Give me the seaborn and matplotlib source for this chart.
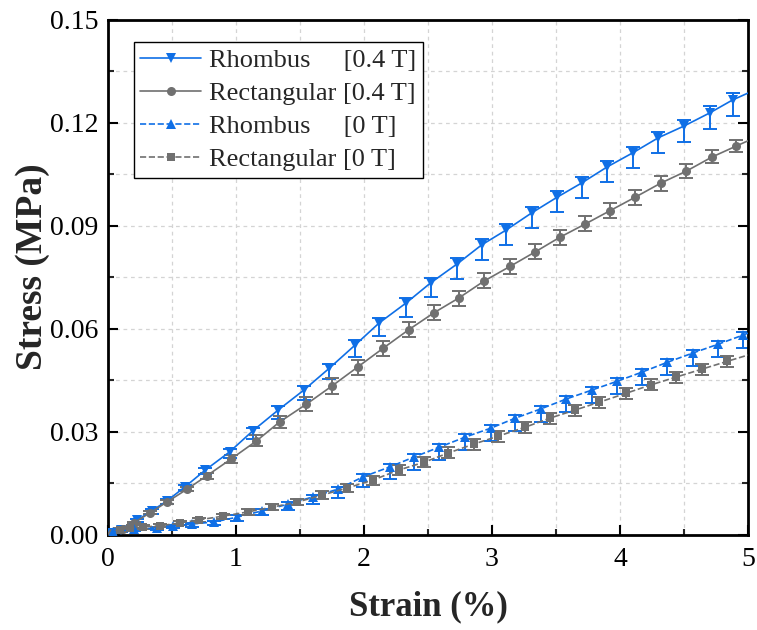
import numpy as np
import pandas as pd
import seaborn as sns
import matplotlib.pyplot as plt
from matplotlib.ticker import MultipleLocator

# ---- data: strain (%) vs stress (MPa); last entry of each series is the curve end (no marker)
rh04_x = [0.02, 0.10, 0.23, 0.34, 0.46, 0.60, 0.76, 0.95, 1.13, 1.33, 1.53, 1.73, 1.93, 2.12,
          2.33, 2.52, 2.73, 2.92, 3.11, 3.31, 3.51, 3.70, 3.90, 4.10, 4.30, 4.50, 4.70, 4.88, 5.00]
rh04_y = [0.0005, 0.0015, 0.0044, 0.0070, 0.0099, 0.0140, 0.0189, 0.0242, 0.0303, 0.0364, 0.0422,
          0.0486, 0.0553, 0.0618, 0.0676, 0.0734, 0.0790, 0.0845, 0.0888, 0.0938, 0.0984, 0.1025,
          0.1072, 0.1113, 0.1157, 0.1191, 0.1229, 0.1267, 0.1287]
rh04_lo = [0.0003, 0.0005, 0.0006, 0.0008, 0.0008, 0.0010, 0.0012, 0.0018, 0.0022, 0.0027, 0.0030,
           0.0033, 0.0036, 0.0038, 0.0040, 0.0042, 0.0043, 0.0044, 0.0044, 0.0044, 0.0044, 0.0044,
           0.0044, 0.0044, 0.0045, 0.0046, 0.0047, 0.0048]
rh04_hi = [0.0002, 0.0003, 0.0004, 0.0005, 0.0005, 0.0006, 0.0007, 0.0008, 0.0010, 0.0011, 0.0012,
           0.0013, 0.0014, 0.0015, 0.0015, 0.0015, 0.0016, 0.0016, 0.0017, 0.0017, 0.0017, 0.0017,
           0.0017, 0.0018, 0.0018, 0.0018, 0.0019, 0.0020]

re04_x = [0.03, 0.12, 0.20, 0.33, 0.46, 0.62, 0.77, 0.96, 1.16, 1.34, 1.55, 1.75, 1.95, 2.15,
          2.35, 2.55, 2.74, 2.94, 3.14, 3.34, 3.53, 3.73, 3.92, 4.12, 4.32, 4.52, 4.72, 4.91, 5.00]
re04_y = [0.0005, 0.0018, 0.0035, 0.0065, 0.0096, 0.0134, 0.0172, 0.0221, 0.0274, 0.0329, 0.0381,
          0.0434, 0.0489, 0.0544, 0.0598, 0.0648, 0.0690, 0.0740, 0.0782, 0.0825, 0.0867, 0.0906,
          0.0944, 0.0984, 0.1025, 0.1060, 0.1101, 0.1133, 0.1148]
re04_err = [0.0002, 0.0003, 0.0004, 0.0005, 0.0006, 0.0007, 0.0009, 0.0012, 0.0016, 0.0018, 0.0020,
            0.0022, 0.0022, 0.0022, 0.0022, 0.0022, 0.0022, 0.0022, 0.0022, 0.0022, 0.0022, 0.0022,
            0.0022, 0.0022, 0.0022, 0.0021, 0.0019, 0.0018]

rh0_x = [0.04, 0.20, 0.38, 0.51, 0.66, 0.83, 1.01, 1.20, 1.41, 1.60, 1.80, 1.99, 2.20, 2.39,
         2.59, 2.79, 2.99, 3.18, 3.38, 3.58, 3.78, 3.98, 4.17, 4.37, 4.57, 4.77, 4.96, 5.00]
rh0_y = [0.0009, 0.0017, 0.0020, 0.0026, 0.0032, 0.0038, 0.0052, 0.0070, 0.0090, 0.0111, 0.0134,
         0.0169, 0.0198, 0.0227, 0.0256, 0.0285, 0.0311, 0.0340, 0.0367, 0.0396, 0.0422, 0.0448,
         0.0474, 0.0503, 0.0530, 0.0556, 0.0582, 0.0588]
rh0_lo = [0.0005, 0.0006, 0.0006, 0.0007, 0.0008, 0.0009, 0.0010, 0.0012, 0.0016, 0.0020, 0.0025,
          0.0030, 0.0035, 0.0038, 0.0038, 0.0038, 0.0038, 0.0038, 0.0038, 0.0038, 0.0038, 0.0038,
          0.0038, 0.0038, 0.0038, 0.0038, 0.0038]
rh0_hi = [0.0003, 0.0003, 0.0003, 0.0004, 0.0004, 0.0004, 0.0005, 0.0005, 0.0006, 0.0006, 0.0007,
          0.0008, 0.0008, 0.0009, 0.0009, 0.0009, 0.0009, 0.0009, 0.0009, 0.0009, 0.0009, 0.0009,
          0.0009, 0.0009, 0.0009, 0.0009, 0.0009]

re0_x = [0.09, 0.17, 0.27, 0.41, 0.56, 0.71, 0.90, 1.09, 1.28, 1.48, 1.67, 1.87, 2.07, 2.27,
         2.47, 2.66, 2.86, 3.05, 3.26, 3.45, 3.65, 3.84, 4.05, 4.24, 4.44, 4.64, 4.84, 5.00]
re0_y = [0.0015, 0.0020, 0.0023, 0.0027, 0.0035, 0.0044, 0.0055, 0.0067, 0.0081, 0.0096, 0.0116,
         0.0137, 0.0160, 0.0189, 0.0212, 0.0239, 0.0265, 0.0288, 0.0314, 0.0340, 0.0364, 0.0387,
         0.0413, 0.0437, 0.0460, 0.0483, 0.0506, 0.0524]
re0_err = [0.0004, 0.0004, 0.0005, 0.0005, 0.0006, 0.0006, 0.0007, 0.0008, 0.0009, 0.0010, 0.0011,
           0.0012, 0.0013, 0.0014, 0.0015, 0.0016, 0.0016, 0.0016, 0.0016, 0.0016, 0.0016, 0.0016,
           0.0016, 0.0016, 0.0016, 0.0016, 0.0016]

labels = ["Rhombus     [0.4 T]", "Rectangular [0.4 T]", "Rhombus     [0 T]", "Rectangular [0 T]"]

BLUE = "#0F6FE6"
GRAY = "#707070"

sns.set_theme(style="ticks")
plt.rcParams["font.family"] = ["Liberation Serif", "DejaVu Serif"]

fig = plt.figure(figsize=(7.57, 6.30), dpi=100)
ax = fig.add_axes([0.1427, 0.1508, 0.8453, 0.8175])

series = [
    (rh04_x, rh04_y, (rh04_lo, rh04_hi), BLUE, "v", "-", 7.5, labels[0]),
    (re04_x, re04_y, (re04_err, re04_err), GRAY, "o", "-", 6.5, labels[1]),
    (rh0_x, rh0_y, (rh0_lo, rh0_hi), BLUE, "^", "--", 7.5, labels[2]),
    (re0_x, re0_y, (re0_err, re0_err), GRAY, "s", "--", 5.5, labels[3]),
]

for xs, ys, (lo, hi), col, mk, ls, ms, lab in series:
    n = len(lo)
    ax.errorbar(xs[:n], ys[:n], yerr=[lo, hi], fmt="none", ecolor=col,
                elinewidth=1.4, capsize=5, capthick=1.4, zorder=2)
    df = pd.DataFrame({"x": xs, "y": ys})
    sns.lineplot(data=df, x="x", y="y", ax=ax, color=col, linestyle=ls, linewidth=1.2,
                 marker=mk, markersize=ms, markeredgewidth=0, markevery=list(range(n)),
                 label=lab, estimator=None, sort=False, zorder=3,
                 **({"dashes": (5, 3)} if ls == "--" else {}))

ax.set_xlim(0, 5)
ax.set_ylim(0, 0.15)
ax.xaxis.set_major_locator(MultipleLocator(1))
ax.xaxis.set_minor_locator(MultipleLocator(0.5))
ax.yaxis.set_major_locator(MultipleLocator(0.03))
ax.yaxis.set_minor_locator(MultipleLocator(0.015))
ax.yaxis.set_major_formatter(plt.FormatStrFormatter("%.2f"))

ax.grid(which="both", color="#d4d4d4", linestyle=(0, (3, 3)), linewidth=0.9, zorder=0)
ax.set_axisbelow(True)

ax.tick_params(which="major", direction="in", length=7, width=1.5, labelsize=20,
               left=True, bottom=True, right=True, top=False, colors="black")
ax.tick_params(axis="x", which="major", pad=9)
ax.tick_params(axis="y", which="major", pad=7)
ax.tick_params(which="minor", direction="in", length=4, width=1.5,
               left=True, bottom=True, right=True, top=False)
for s in ax.spines.values():
    s.set_linewidth(2.0)
    s.set_color("black")

ax.set_xlabel("Strain (%)", fontsize=25, fontweight="bold")
ax.set_ylabel("Stress (MPa)", fontsize=27, fontweight="bold")
ax.xaxis.set_label_coords(0.5, -0.108)
ax.yaxis.set_label_coords(-0.091, 0.52)

leg = ax.legend(loc="upper left", bbox_to_anchor=(0.04, 0.957), fontsize=19,
                frameon=True, fancybox=False, edgecolor="black", framealpha=1,
                handlelength=2.3, handletextpad=0.3, borderpad=0.25, labelspacing=0.36,
                borderaxespad=0)
leg.get_frame().set_linewidth(1.0)

fig.savefig("out.png", dpi=100)
